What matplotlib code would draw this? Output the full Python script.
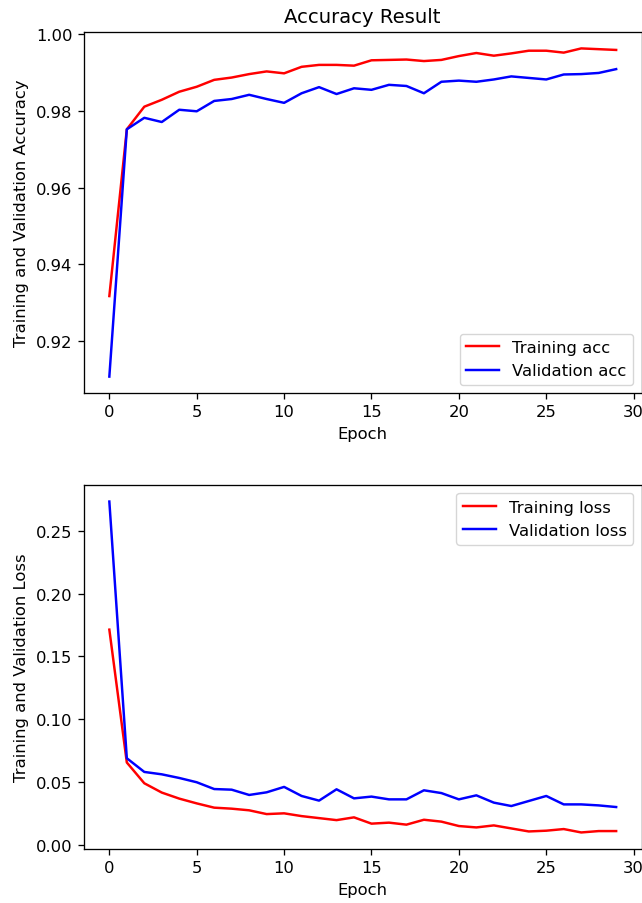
import matplotlib
matplotlib.use("Agg")
import matplotlib.pyplot as plt
import numpy as np

epochs = list(range(30))
train_acc = [0.9317, 0.9752, 0.9811, 0.9829, 0.9850, 0.9863, 0.9881, 0.9887, 0.9896, 0.9903,
             0.9898, 0.9915, 0.9920, 0.9920, 0.9918, 0.9932, 0.9933, 0.9934, 0.9930, 0.9933,
             0.9943, 0.9951, 0.9944, 0.9950, 0.9957, 0.9957, 0.9952, 0.9963, 0.9961, 0.9959]
val_acc = [0.9107, 0.9752, 0.9782, 0.9771, 0.9803, 0.9799, 0.9826, 0.9831, 0.9842, 0.9831,
           0.9821, 0.9846, 0.9862, 0.9844, 0.9859, 0.9855, 0.9868, 0.9865, 0.9846, 0.9876,
           0.9879, 0.9876, 0.9882, 0.9890, 0.9886, 0.9882, 0.9895, 0.9896, 0.9899, 0.9909]
train_loss = [0.1713, 0.0657, 0.0492, 0.0418, 0.0370, 0.0332, 0.0298, 0.0290, 0.0277, 0.0247,
              0.0253, 0.0231, 0.0215, 0.0199, 0.0221, 0.0171, 0.0179, 0.0163, 0.0202, 0.0187,
              0.0152, 0.0141, 0.0157, 0.0133, 0.0109, 0.0115, 0.0128, 0.0101, 0.0112, 0.0112]
val_loss = [0.2731, 0.0691, 0.0582, 0.0563, 0.0534, 0.0500, 0.0446, 0.0441, 0.0399, 0.0420,
            0.0463, 0.0391, 0.0354, 0.0444, 0.0372, 0.0386, 0.0364, 0.0364, 0.0436, 0.0414,
            0.0364, 0.0396, 0.0338, 0.0311, 0.0351, 0.0391, 0.0324, 0.0324, 0.0316, 0.0303]

S = 1.18
plt.rcParams.update({
    "font.family": ["DejaVu Sans"],
    "font.size": 10 * S,
    "axes.titlesize": 12 * S,
    "axes.labelsize": 10 * S,
    "xtick.labelsize": 10 * S,
    "ytick.labelsize": 10 * S,
    "legend.fontsize": 10 * S,
    "lines.linewidth": 1.5 * S,
    "axes.linewidth": 0.8 * S,
    "xtick.major.size": 3.5 * S,
    "ytick.major.size": 3.5 * S,
    "xtick.major.width": 0.8 * S,
    "ytick.major.width": 0.8 * S,
    "xtick.major.pad": 3.5 * S,
    "ytick.major.pad": 3.5 * S,
    "axes.titlepad": 6 * S,
    "axes.labelpad": 4 * S,
})

W, H = 642, 904
fig = plt.figure(figsize=(W / 100, H / 100), dpi=100)

ax1 = fig.add_axes([84 / W, 1 - 394 / H, 557.5 / W, 361 / H])
ax2 = fig.add_axes([84 / W, 1 - 850 / H, 557.5 / W, 364 / H])

ax1.plot(epochs, train_acc, color="r", label="Training acc")
ax1.plot(epochs, val_acc, color="b", label="Validation acc")
ax1.set_title("Accuracy Result")
ax1.set_xlabel("Epoch")
ax1.set_ylabel("Training and Validation Accuracy")
ax1.legend(loc="lower right")

ax2.plot(epochs, train_loss, color="r", label="Training loss")
ax2.plot(epochs, val_loss, color="b", label="Validation loss")
ax2.set_xlabel("Epoch")
ax2.set_ylabel("Training and Validation Loss")
ax2.legend(loc="upper right")

fig.savefig("out.png", dpi=100)
